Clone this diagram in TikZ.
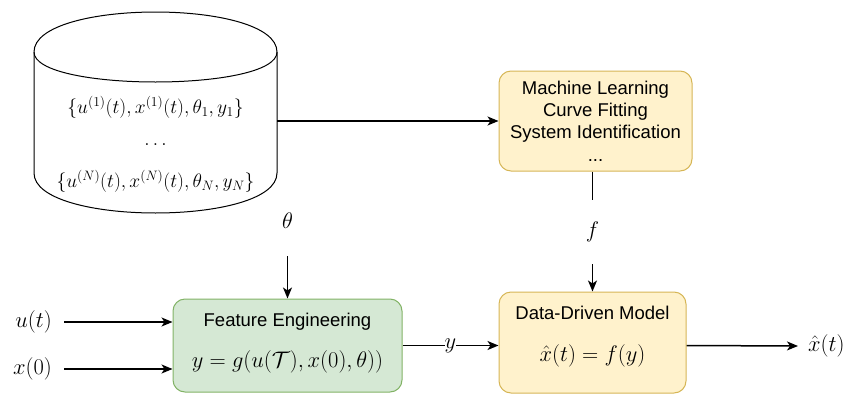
\RequirePackage{fix-cm}
\documentclass[tikz,border=0pt]{standalone}
\usepackage{fontspec}
\newfontfamily\boxfont{Liberation Sans}
\usetikzlibrary{arrows.meta}

\definecolor{ylfill}{HTML}{FFF2CC}
\definecolor{yldraw}{HTML}{D6B656}
\definecolor{grfill}{HTML}{D5E8D4}
\definecolor{grdraw}{HTML}{82B366}

\tikzset{
  arr/.style={line width=1.5pt, -{Stealth[length=11pt, width=9pt, inset=3pt]}},
  procbox/.style={rounded corners=12pt, line width=1pt, inner sep=0pt},
  yellowbox/.style={procbox, fill=ylfill, draw=yldraw},
  greenbox/.style={procbox, fill=grfill, draw=grdraw},
  sanstext/.style={font=\boxfont\fontsize{18.5}{22.2}\selectfont, align=center, inner sep=0pt},
  mathtext/.style={font=\fontsize{22.5}{27}\selectfont, inner sep=0pt},
  dbtext/.style={font=\fontsize{19.5}{23}\selectfont, inner sep=0pt},
}

\begin{document}
\begin{tikzpicture}[x=1pt, y=-1pt]
\useasboundingbox (0,0) rectangle (857,394);

% data store (cylinder)
\node[minimum width=243pt, minimum height=201pt, inner sep=0pt] (db) at (155.5,112.5) {};
\draw[line width=1pt, fill=white]
  (34,52) .. controls (34,-1.33) and (277,-1.33) .. (277,52)
  -- (277,173) .. controls (277,226.33) and (34,226.33) .. (34,173) -- cycle;
\draw[line width=1pt] (34,52) .. controls (34,92) and (277,92) .. (277,52);
\node[dbtext] (rec1) at (155.5,107) {$\{u^{(1)}(t), x^{(1)}(t), \theta_1, y_1\}$};
\node[dbtext] (recdots) at (155.5,145) {$\ldots$};
\node[dbtext] (recN) at (155.5,181) {$\{u^{(N)}(t), x^{(N)}(t), \theta_N, y_N\}$};

% learning methods
\node[yellowbox, minimum width=193pt, minimum height=100pt] (ml) at (595.5,121) {};
\node[sanstext] (mltext) at (595.5,121) {Machine Learning\\Curve Fitting\\System Identification\\...};

% feature engineering
\node[greenbox, minimum width=229pt, minimum height=93pt] (fe) at (287.5,345.5) {};
\node[sanstext] (fetitle) at (287.5,322) {Feature Engineering};
\node[mathtext] (feeq) at (287.5,362) {$y = g(u(\mathcal{T}), x(0), \theta))$};

% data-driven model
\node[yellowbox, minimum width=187pt, minimum height=101pt] (ddm) at (592.5,342.5) {};
\node[sanstext] (ddmtitle) at (592.5,313) {Data-Driven Model};
\node[mathtext] (ddmeq) at (592.5,356) {$\hat{x}(t) = f(y)$};

% inputs and outputs
\node[mathtext, minimum height=70pt] (theta) at (287.5,221) {$\theta$};
\node[mathtext, inner xsep=12pt, anchor=east] (u) at (64,322) {$u(t)$};
\node[mathtext, inner xsep=12pt, anchor=east] (x0) at (64,369) {$x(0)$};
\node[mathtext, inner xsep=10pt, anchor=west] (xhat) at (798,346) {$\hat{x}(t)$};

% connectors
\draw[arr] (ml.west -| db.east) -- (ml.west);
\draw[arr] (ddm.north |- ml.south) -- node[fill=white, inner sep=0pt, minimum height=64pt, mathtext] (flbl) {$f$} (ddm.north);
\draw[arr] (theta.south) -- (fe.north);
\draw[arr] (u.east) -- (u.east -| fe.west);
\draw[arr] (x0.east) -- (x0.east -| fe.west);
\draw[arr] (fe.east) -- node[fill=white, inner sep=1pt, mathtext] (ylbl) {$y$} (fe.east -| ddm.west);
\draw[arr] (fe.east -| ddm.east) -- (xhat.west);
\end{tikzpicture}
\end{document}
